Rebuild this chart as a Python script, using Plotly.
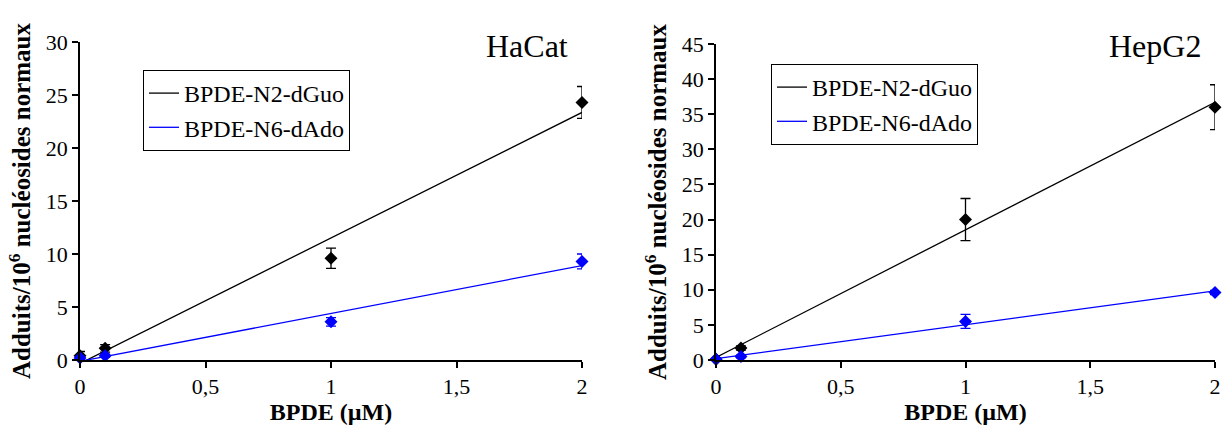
import numpy as np
import plotly.graph_objects as go

# ---- data ----
conc = [0, 0.1, 1, 2]
x_tickvals = [0, 0.5, 1, 1.5, 2]
x_ticktext = ["0", "0,5", "1", "1,5", "2"]

hacat_guo = [0.4, 1.1, 9.6, 24.3]
hacat_guo_err = [0.4, 0.35, 0.95, 1.5]
hacat_ado = [0.2, 0.4, 3.6, 9.3]
hacat_ado_err = [0.15, 0.15, 0.4, 0.7]

hepg2_guo = [0.1, 1.7, 20.0, 36.0]
hepg2_guo_err = [0.2, 0.3, 3.0, 3.2]
hepg2_ado = [0.1, 0.5, 5.5, 9.6]
hepg2_ado_err = [0.1, 0.2, 1.0, 0.3]

series_names = ["BPDE-N2-dGuo", "BPDE-N6-dAdo"]
colors = ["#000000", "#0000FF"]

FONT = "Liberation Serif"

fig = go.Figure()

panels = [
    ("x", "y", [hacat_guo, hacat_ado], [hacat_guo_err, hacat_ado_err], "legend"),
    ("x2", "y2", [hepg2_guo, hepg2_ado], [hepg2_guo_err, hepg2_ado_err], "legend2"),
]

xfit = np.array([0.0, 2.0])
for xa, ya, vals, errs, leg in panels:
    for name, col, v, e in zip(series_names, colors, vals, errs):
        slope, icpt = np.polyfit(conc, v, 1)
        fig.add_trace(go.Scatter(
            x=xfit, y=slope * xfit + icpt, mode="lines", name=name,
            line=dict(color=col, width=1.3), xaxis=xa, yaxis=ya, legend=leg,
            hoverinfo="skip"))
    for name, col, v, e in zip(series_names, colors, vals, errs):
        fig.add_trace(go.Scatter(
            x=conc, y=v, mode="markers", name=name, showlegend=False,
            marker=dict(symbol="diamond", size=10, color=col),
            error_y=dict(type="data", array=e, color=col, thickness=1.3, width=5),
            xaxis=xa, yaxis=ya, cliponaxis=False))

W, H = 1224, 425
def fx(p):
    return p / W
def fy(p):
    return 1 - p / H

axis_common = dict(
    showgrid=False, zeroline=False, showline=True, linecolor="black", linewidth=1.5,
    ticks="outside", ticklen=6, tickwidth=1.5, tickcolor="black", automargin=False,
    tickfont=dict(family=FONT, size=22, color="black"),
)
xaxis_common = dict(axis_common, range=[0, 2], tickvals=x_tickvals, ticktext=x_ticktext,
                    title=dict(text="<b>BPDE (µM)</b>", font=dict(family=FONT, size=24, color="black"), standoff=2))
ytitle = "<b>Adduits/10<sup>6</sup> nucléosides normaux</b>"

fig.update_layout(
    width=W, height=H, margin=dict(l=0, r=0, t=0, b=0, autoexpand=False),
    paper_bgcolor="white", plot_bgcolor="white",
    showlegend=True,
    xaxis=dict(xaxis_common, domain=[fx(80), fx(582)], anchor="y"),
    yaxis=dict(axis_common, domain=[fy(360), fy(42)], anchor="x", range=[0, 30], dtick=5,
               title=dict(text=ytitle, font=dict(family=FONT, size=25, color="black"), standoff=8)),
    xaxis2=dict(xaxis_common, domain=[fx(716), fx(1215)], anchor="y2"),
    yaxis2=dict(axis_common, domain=[fy(360), fy(44)], anchor="x2", range=[0, 45], dtick=5,
                title=dict(text=ytitle, font=dict(family=FONT, size=25, color="black"), standoff=8)),
    legend=dict(x=fx(143), y=fy(70), xanchor="left", yanchor="top",
                bordercolor="black", borderwidth=1, bgcolor="white",
                font=dict(family=FONT, size=24, color="black"), itemwidth=30,
                tracegroupgap=0),
    legend2=dict(x=fx(771), y=fy(64), xanchor="left", yanchor="top",
                 bordercolor="black", borderwidth=1, bgcolor="white",
                 font=dict(family=FONT, size=24, color="black"), itemwidth=30,
                 tracegroupgap=0),
    annotations=[
        dict(text="HaCat", x=fx(527), y=fy(46), xref="paper", yref="paper",
             xanchor="center", yanchor="middle",
             showarrow=False, font=dict(family=FONT, size=32, color="black")),
        dict(text="HepG2", x=fx(1155), y=fy(46), xref="paper", yref="paper",
             xanchor="center", yanchor="middle",
             showarrow=False, font=dict(family=FONT, size=32, color="black")),
    ],
)

fig.write_html(
    "out.html",
    config={"displayModeBar": False},
    post_script="document.body.style.margin='0';document.body.style.overflow='hidden';",
)
